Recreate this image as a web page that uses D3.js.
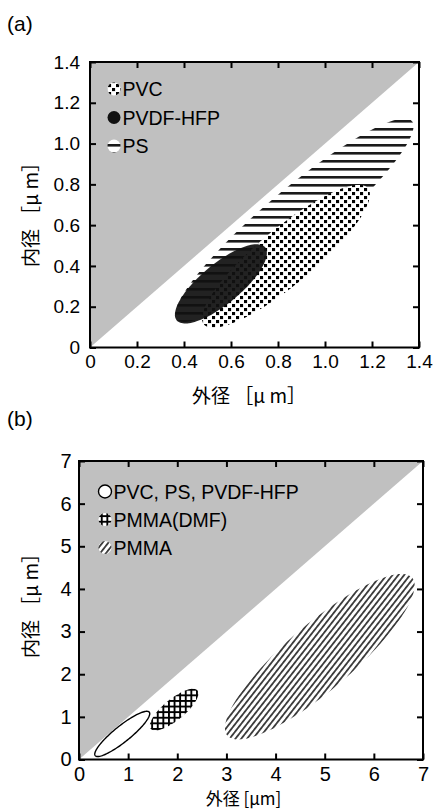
<!DOCTYPE html>
<html>
<head>
<meta charset="utf-8">
<script src="https://cdn.jsdelivr.net/npm/d3@7"></script>
<style>
  body { margin: 0; background: #fff; }
  text { font-family: "Liberation Sans", Arial, sans-serif; fill: #000; }
  .cjk { font-family: "Noto Sans CJK JP", "Noto Sans CJK SC", sans-serif; }
</style>
</head>
<body>
<svg id="chart" width="437" height="810"></svg>
<script>
// Outer vs inner diameter of hollow fibres, two panels
// (a) sub-micron fibres, (b) all polymers incl. PMMA

// ---- panel (a) data ----
var ticksA = [0, 0.2, 0.4, 0.6, 0.8, 1.0, 1.2, 1.4];
var tickLabelsA = ["0", "0.2", "0.4", "0.6", "0.8", "1.0", "1.2", "1.4"];
// regions in drawing order (PS below, PVDF-HFP on top)
var polymersA = ["PS", "PVC", "PVDF-HFP"];
var centerOuterA = [0.870, 0.834, 0.557];
var centerInnerA = [0.624, 0.447, 0.312];
var tipOuterA = [1.37, 1.183, 0.745];
var tipInnerA = [1.11, 0.781, 0.491];
var halfWidthA = [0.128, 0.119, 0.085];
var legendA = ["PVC", "PVDF-HFP", "PS"];

// ---- panel (b) data ----
var ticksB = [0, 1, 2, 3, 4, 5, 6, 7];
var tickLabelsB = ["0", "1", "2", "3", "4", "5", "6", "7"];
var polymersB = ["PVC, PS, PVDF-HFP", "PMMA(DMF)", "PMMA"];
var centerOuterB = [0.88, 1.935, 4.90];
var centerInnerB = [0.60, 1.17, 2.41];
var tipOuterB = [1.43, 2.41, 6.78];
var tipInnerB = [1.11, 1.62, 4.26];
var halfWidthB = [0.163, 0.214, 0.67];
var legendB = ["PVC, PS, PVDF-HFP", "PMMA(DMF)", "PMMA"];

var svg = d3.select("#chart");
var defs = svg.append("defs");

// fill for each polymer
var fills = {
    "PVC": "url(#dots)",
    "PVDF-HFP": "#111",
    "PS": "url(#hstripes)",
    "PVC, PS, PVDF-HFP": "#fff",
    "PMMA(DMF)": "url(#grid)",
    "PMMA": "url(#dstripes)"
};

function makePatterns() {
    // dotted (PVC)
    var p = defs.append("pattern").attr("id", "dots")
        .attr("patternUnits", "userSpaceOnUse").attr("width", 8).attr("height", 8);
    p.append("rect").attr("width", 8).attr("height", 8).attr("fill", "#fff");
    p.append("rect").attr("x", 0).attr("y", 0).attr("width", 3.1).attr("height", 3.1).attr("fill", "#000");
    p.append("rect").attr("x", 4).attr("y", 4).attr("width", 3.1).attr("height", 3.1).attr("fill", "#000");

    // horizontal stripes (PS)
    p = defs.append("pattern").attr("id", "hstripes")
        .attr("patternUnits", "userSpaceOnUse").attr("width", 8).attr("height", 8);
    p.append("rect").attr("width", 8).attr("height", 8).attr("fill", "#fff");
    p.append("rect").attr("y", 0).attr("width", 8).attr("height", 2.6).attr("fill", "#1a1a1a");

    // cross hatch (PMMA(DMF))
    p = defs.append("pattern").attr("id", "grid")
        .attr("patternUnits", "userSpaceOnUse").attr("width", 5.6).attr("height", 5.6);
    p.append("rect").attr("width", 5.6).attr("height", 5.6).attr("fill", "#fff");
    p.append("rect").attr("width", 5.6).attr("height", 1.9).attr("fill", "#000");
    p.append("rect").attr("width", 1.9).attr("height", 5.6).attr("fill", "#000");

    // diagonal stripes (PMMA)
    p = defs.append("pattern").attr("id", "dstripes")
        .attr("patternUnits", "userSpaceOnUse").attr("width", 4.6).attr("height", 10)
        .attr("patternTransform", "rotate(38)");
    p.append("rect").attr("width", 4.6).attr("height", 10).attr("fill", "#fff");
    p.append("rect").attr("width", 1.8).attr("height", 10).attr("fill", "#3a3a3a");
}

/**
 * Path of a rotated ellipse in screen space (so the fill patterns stay unrotated)
 */
function ellipsePath(cx, cy, rx, ry, ang) {
    var c = Math.cos(ang), s = Math.sin(ang);
    var pts = d3.range(0, 121).map(function(k) {
        var t = k / 120 * 2 * Math.PI;
        var ex = rx * Math.cos(t), ey = ry * Math.sin(t);
        return [cx + ex * c - ey * s, cy + ex * s + ey * c];
    });
    return d3.line()(pts) + "Z";
}

/**
 * Draw one panel: frame, grey y > x region, ellipses, axes, legend
 */
function drawPanel(cfg) {
    var x = d3.scaleLinear().domain([0, cfg.max]).range([cfg.left, cfg.right]);
    var y = d3.scaleLinear().domain([0, cfg.max]).range([cfg.bottom, cfg.top]);

    defs.append("clipPath").attr("id", cfg.id + "-clip")
        .append("rect")
        .attr("x", cfg.left).attr("y", cfg.top)
        .attr("width", cfg.right - cfg.left).attr("height", cfg.bottom - cfg.top);

    var g = svg.append("g");
    var plot = g.append("g").attr("clip-path", "url(#" + cfg.id + "-clip)");

    // grey region where inner > outer (impossible)
    plot.append("path")
        .attr("d", "M" + x(0) + "," + y(0) + "L" + x(cfg.max) + "," + y(cfg.max) + "L" + x(0) + "," + y(cfg.max) + "Z")
        .attr("fill", "#c0c0c0");

    // ellipses
    cfg.names.forEach(function(name, i) {
        var cx = x(cfg.cOuter[i]), cy = y(cfg.cInner[i]);
        var tx = x(cfg.tOuter[i]), ty = y(cfg.tInner[i]);
        var rx = Math.sqrt((tx - cx) * (tx - cx) + (ty - cy) * (ty - cy));
        var ry = x(cfg.halfWidth[i]) - x(0);
        var ang = Math.atan2(ty - cy, tx - cx);
        plot.append("path")
            .attr("d", ellipsePath(cx, cy, rx, ry, ang))
            .attr("fill", fills[name])
            .attr("fill-opacity", name === "PVDF-HFP" ? 0.93 : 1)
            .attr("stroke", name === "PVC, PS, PVDF-HFP" ? "#000" : "none")
            .attr("stroke-width", 1.4);
    });

    // axes, all ticks pointing inward
    var fmt = function(d, i) { return cfg.labels[i]; };
    var axes = [
        d3.axisBottom(x).tickValues(cfg.ticks).tickFormat(fmt).tickSize(-6).tickPadding(cfg.xPad),
        d3.axisLeft(y).tickValues(cfg.ticks).tickFormat(fmt).tickSize(-6).tickPadding(cfg.yPad),
        d3.axisTop(x).tickValues(cfg.ticks).tickFormat("").tickSize(-6),
        d3.axisRight(y).tickValues(cfg.ticks).tickFormat("").tickSize(-6)
    ];
    var shifts = [
        "translate(0," + cfg.bottom + ")",
        "translate(" + cfg.left + ",0)",
        "translate(0," + cfg.top + ")",
        "translate(" + cfg.right + ",0)"
    ];
    axes.forEach(function(ax, i) {
        var a = g.append("g").attr("transform", shifts[i]).call(ax);
        a.select(".domain").remove();
        a.selectAll(".tick line").attr("stroke", "#000").attr("stroke-width", 2);
        a.selectAll(".tick text")
            .attr("fill", "#000")
            .style("font-family", "'Liberation Sans', Arial, sans-serif")
            .style("font-size", cfg.tickFont + "px");
    });
    g.append("rect")
        .attr("x", cfg.left).attr("y", cfg.top)
        .attr("width", cfg.right - cfg.left).attr("height", cfg.bottom - cfg.top)
        .attr("fill", "none").attr("stroke", "#000").attr("stroke-width", 2);

    // axis titles
    g.append("text").attr("class", "cjk")
        .attr("x", cfg.xTitle[0]).attr("y", cfg.xTitle[1])
        .attr("text-anchor", "middle")
        .style("font-size", cfg.titleFont + "px")
        .text(cfg.xTitleText);
    g.append("text").attr("class", "cjk")
        .attr("transform", "translate(" + cfg.yTitle[0] + "," + cfg.yTitle[1] + ") rotate(-90)")
        .attr("text-anchor", "middle")
        .attr("dy", "0.35em")
        .style("font-size", "19px")
        .text(cfg.yTitleText);

    // panel label
    g.append("text")
        .attr("x", 7).attr("y", cfg.labelY)
        .style("font-size", "21px")
        .text(cfg.panel);

    // legend
    var leg = g.append("g");
    cfg.legend.forEach(function(name, i) {
        var yy = cfg.legendY + i * cfg.legendStep;
        leg.append("circle")
            .attr("cx", cfg.legendX).attr("cy", yy).attr("r", 6.5)
            .attr("fill", fills[name])
            .attr("stroke", name === "PVC, PS, PVDF-HFP" ? "#000" : "none")
            .attr("stroke-width", 1.4);
        leg.append("text")
            .attr("x", cfg.legendX + 8.5).attr("y", yy)
            .attr("dy", "0.36em")
            .style("font-size", "19.5px")
            .text(name);
    });
}

makePatterns();

drawPanel({
    id: "a", panel: "(a)", labelY: 31, max: 1.4,
    left: 90, right: 419, top: 62, bottom: 347.5,
    ticks: ticksA, labels: tickLabelsA, tickFont: 19, xPad: 7.5, yPad: 10,
    names: polymersA, cOuter: centerOuterA, cInner: centerInnerA,
    tOuter: tipOuterA, tInner: tipInnerA, halfWidth: halfWidthA,
    xTitle: [249, 403], xTitleText: "外径 ［μ m］", titleFont: 19,
    yTitle: [31.5, 210], yTitleText: "内径 ［μ m］",
    legend: legendA, legendX: 114, legendY: 89, legendStep: 28.5
});

drawPanel({
    id: "b", panel: "(b)", labelY: 426, max: 7,
    left: 79, right: 423, top: 461, bottom: 759.5,
    ticks: ticksB, labels: tickLabelsB, tickFont: 20, xPad: 7, yPad: 7.5,
    names: polymersB, cOuter: centerOuterB, cInner: centerInnerB,
    tOuter: tipOuterB, tInner: tipInnerB, halfWidth: halfWidthB,
    xTitle: [243.5, 805], xTitleText: "外径 [μm]", titleFont: 17,
    yTitle: [31.5, 601], yTitleText: "内径 ［μ m］",
    legend: legendB, legendX: 105, legendY: 491.5, legendStep: 28
});
</script>
</body>
</html>
